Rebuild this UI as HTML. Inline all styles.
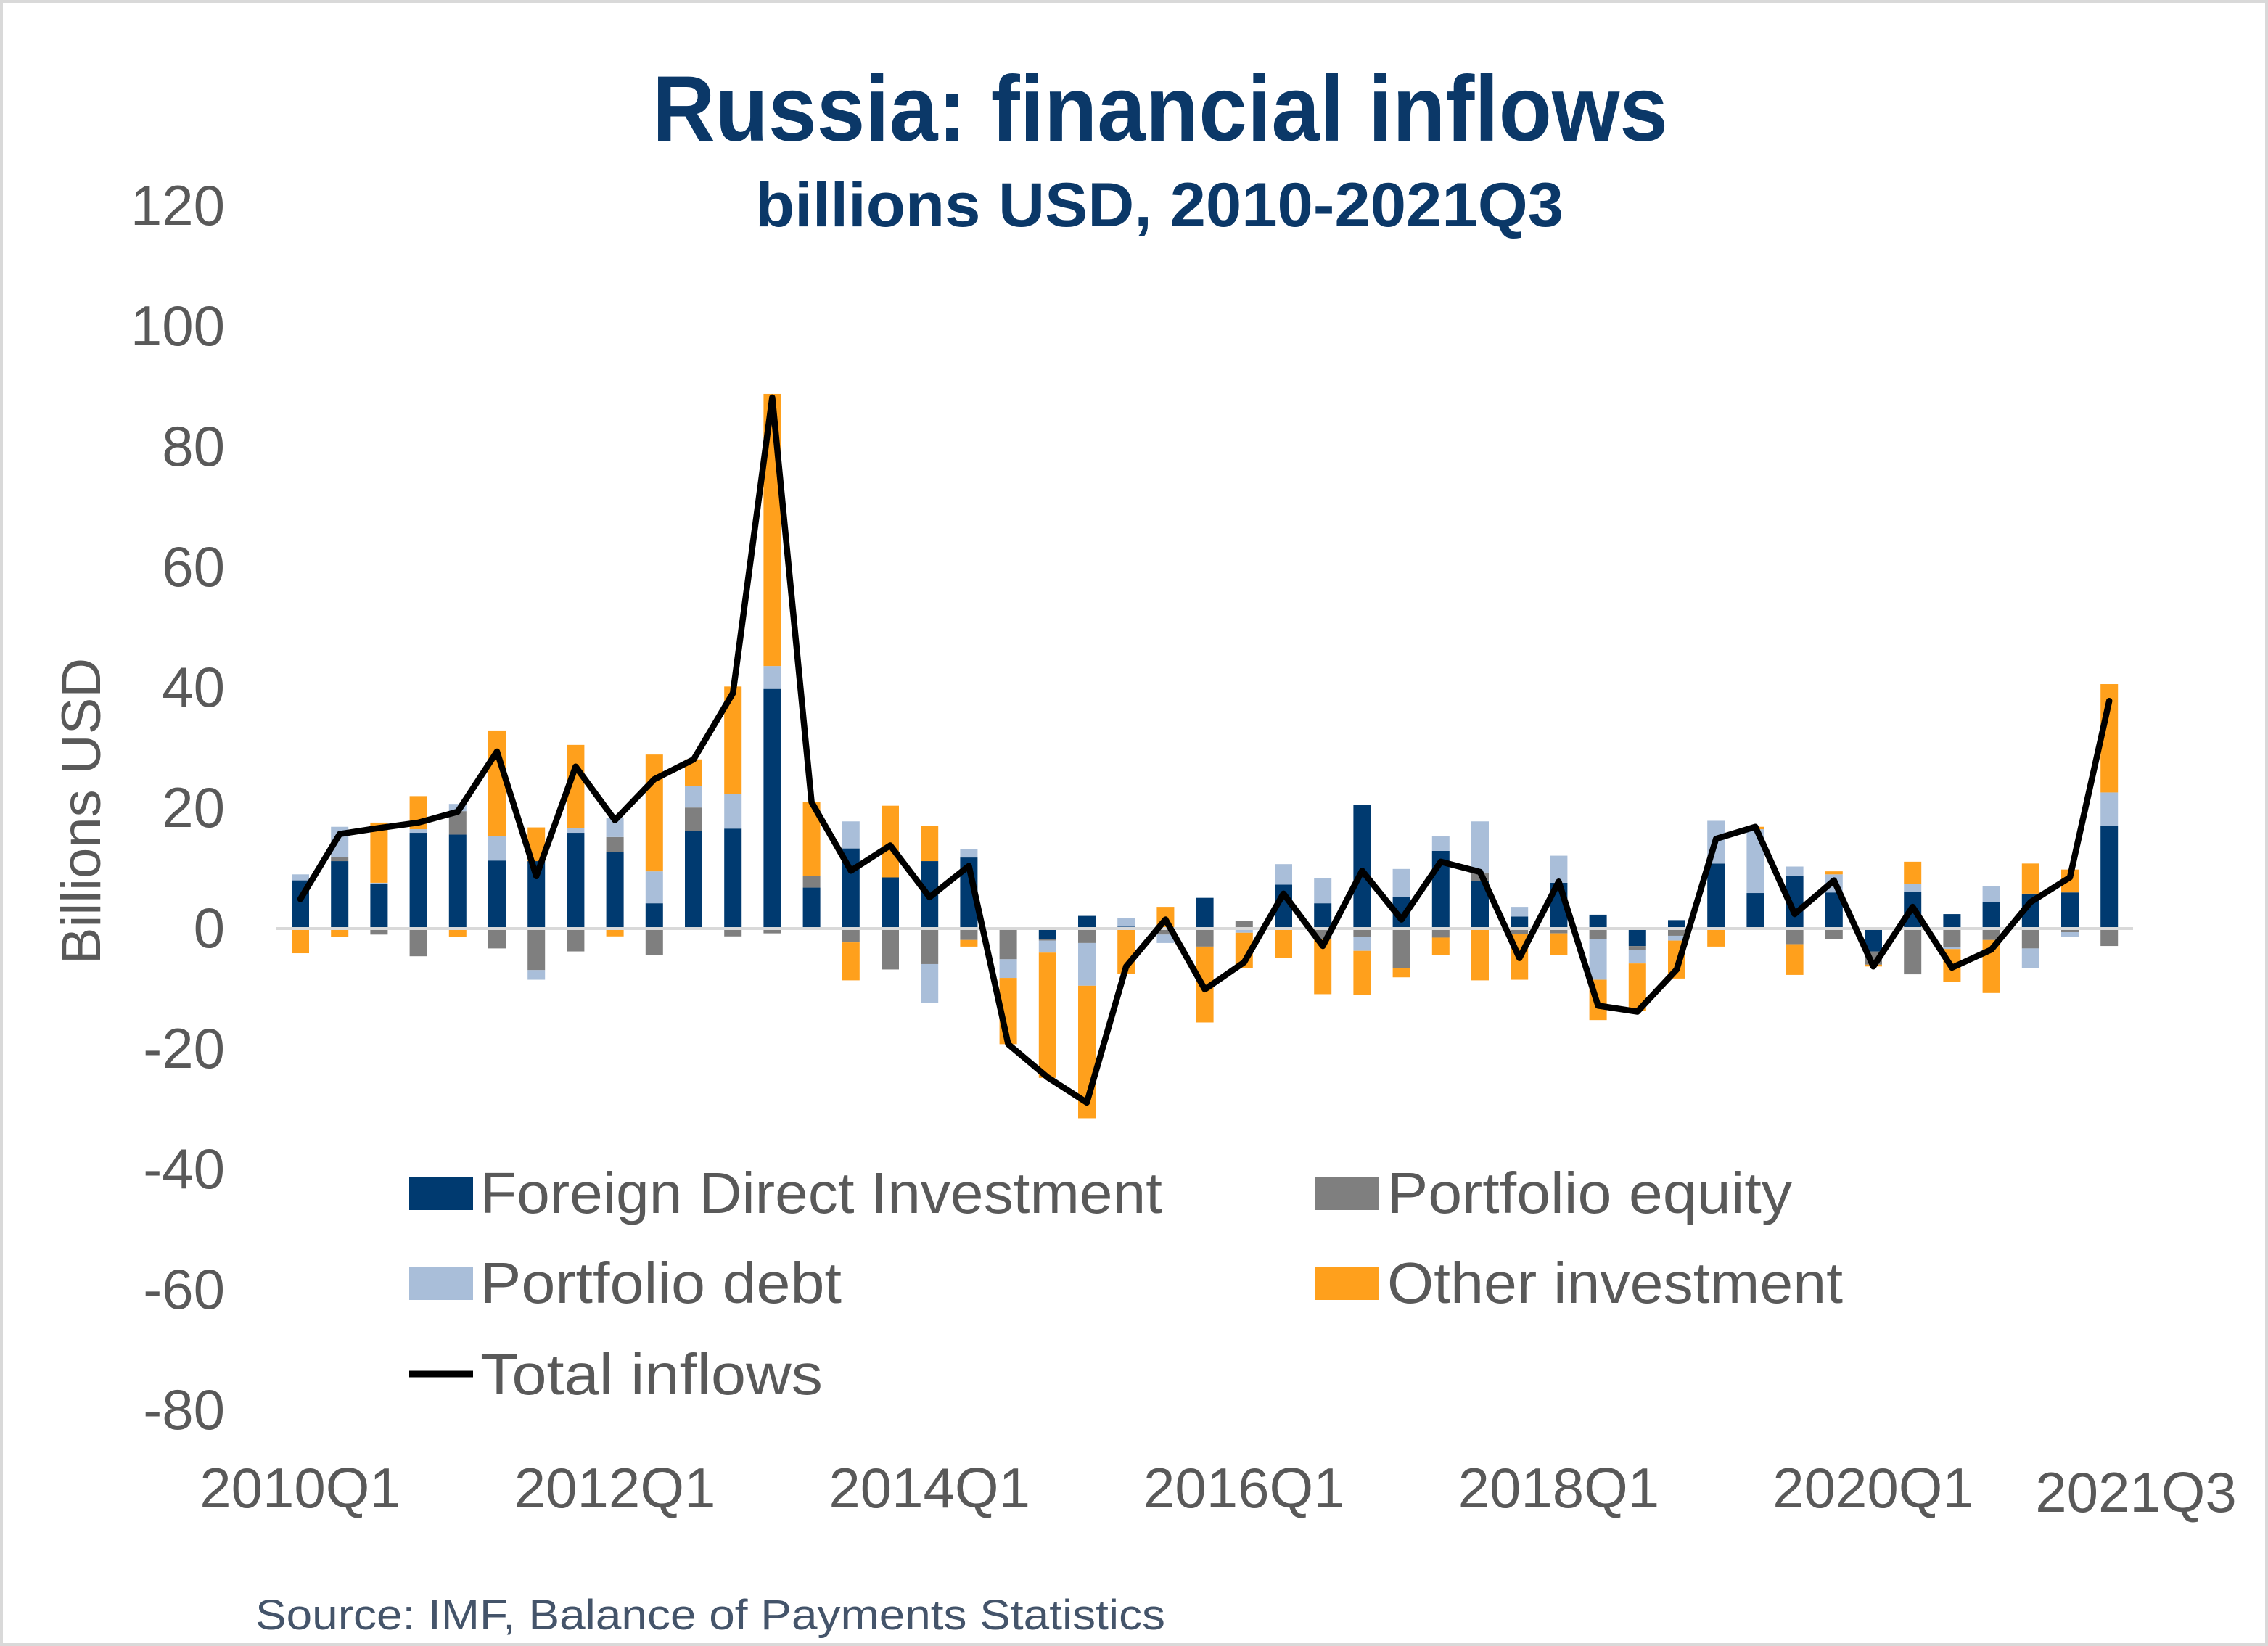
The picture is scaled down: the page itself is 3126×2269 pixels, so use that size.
<!DOCTYPE html>
<html><head><meta charset="utf-8"><style>
html,body{margin:0;padding:0;background:#fff}
svg{display:block}
text{font-family:"Liberation Sans",sans-serif}
</style></head><body>
<svg id="chart" width="3126" height="2269" viewBox="0 0 3126 2269">
<rect x="2" y="2" width="3122" height="2265" fill="#fff" stroke="#d9d9d9" stroke-width="4"/>
<text x="1599" y="194" text-anchor="middle" font-size="128" font-weight="bold" fill="#0b3868" textLength="1400" lengthAdjust="spacingAndGlyphs">Russia: financial inflows</text>
<text x="1598" y="312" text-anchor="middle" font-size="86" font-weight="bold" fill="#0b3868" textLength="1114" lengthAdjust="spacingAndGlyphs">billions USD, 2010-2021Q3</text>
<text transform="translate(138,1118) rotate(-90)" text-anchor="middle" font-size="76" fill="#595959">Billions USD</text>
<g id="yticks"></g>
<g id="bars"></g>
<line x1="380" y1="1280" x2="2940" y2="1280" stroke="#d9d9d9" stroke-width="4"/>
<g id="line"></g>
<g id="xticks"></g>
<g>
<g><rect x="564" y="1622" width="88" height="46" fill="#003a70"/><text x="662" y="1672" font-size="80" fill="#595959" textLength="940" lengthAdjust="spacingAndGlyphs">Foreign Direct Investment</text></g>
<g><rect x="1812" y="1622" width="88" height="46" fill="#7f7f7f"/><text x="1912" y="1672" font-size="80" fill="#595959" textLength="558" lengthAdjust="spacingAndGlyphs">Portfolio equity</text></g>
<g><rect x="564" y="1746" width="88" height="46" fill="#a9bed9"/><text x="662" y="1796" font-size="80" fill="#595959" textLength="498" lengthAdjust="spacingAndGlyphs">Portfolio debt</text></g>
<g><rect x="1812" y="1746" width="88" height="46" fill="#ffa01c"/><text x="1912" y="1796" font-size="80" fill="#595959" textLength="628" lengthAdjust="spacingAndGlyphs">Other investment</text></g>
<g><line x1="564" y1="1894" x2="652" y2="1894" stroke="#000" stroke-width="9"/><text x="662" y="1922" font-size="80" fill="#595959" textLength="472" lengthAdjust="spacingAndGlyphs">Total inflows</text></g>
</g>
<text x="352" y="2246" font-size="58" fill="#44546a" textLength="1254" lengthAdjust="spacingAndGlyphs">Source: IMF, Balance of Payments Statistics</text>
</svg>
<script>
const categories = ["2010Q1","2010Q2","2010Q3","2010Q4","2011Q1","2011Q2","2011Q3","2011Q4","2012Q1","2012Q2","2012Q3","2012Q4","2013Q1","2013Q2","2013Q3","2013Q4","2014Q1","2014Q2","2014Q3","2014Q4","2015Q1","2015Q2","2015Q3","2015Q4","2016Q1","2016Q2","2016Q3","2016Q4","2017Q1","2017Q2","2017Q3","2017Q4","2018Q1","2018Q2","2018Q3","2018Q4","2019Q1","2019Q2","2019Q3","2019Q4","2020Q1","2020Q2","2020Q3","2020Q4","2021Q1","2021Q2","2021Q3"];
const fdi = [8.0,11.2,7.4,15.9,15.6,11.3,11.2,15.9,12.7,4.2,16.2,16.6,39.8,6.8,13.3,8.5,11.2,11.8,0,-1.7,2.1,0.3,0,5.1,0,7.3,4.2,20.6,5.2,12.9,7.9,2.0,7.6,2.3,-2.9,1.4,10.8,5.9,8.8,6.0,-3.8,6.1,2.4,4.4,5.8,6.0,17.0];
const equity = [0,0.7,-1.0,-4.6,3.9,-3.3,-6.9,-3.8,2.5,-4.4,3.9,-1.3,-0.8,1.9,-2.3,-6.8,-5.9,-1.9,-5.1,-0.3,-2.4,0,-1.0,-3.0,1.3,0,-1.7,-1.4,-6.6,-1.5,1.4,-0.9,-0.8,-1.7,-0.7,-1.2,-0.2,0,-2.6,-1.7,-2.2,-7.6,-3.1,-1.9,-3.3,-0.6,-2.9];
const debt = [1.0,5.0,0.2,0.6,1.2,4.0,-1.6,0.8,3.2,5.3,3.6,5.7,3.8,0,4.5,0,-6.5,1.4,-3.1,-2.0,-7.1,1.5,-1.4,0,-0.7,3.4,4.2,-2.3,4.7,2.4,8.5,1.6,4.5,-6.8,-2.2,-0.8,7.1,10.6,1.5,3.0,0,1.3,-0.3,2.7,-3.3,-0.8,5.6];
const other = [-4.1,-1.4,10.0,5.5,-1.4,17.6,5.6,13.8,-1.3,19.4,4.4,17.9,45.2,12.3,-6.3,11.9,5.9,-1.1,-11.0,-20.8,-22.0,-7.5,3.6,-12.6,-5.9,-4.9,-9.2,-7.3,-1.5,-2.9,-8.6,-7.6,-3.6,-6.7,-7.9,-6.3,-2.8,0.4,-5.1,0.5,-0.3,3.7,-5.4,-8.8,5.0,3.8,18.0];
const total = [4.9,15.7,16.7,17.6,19.4,29.4,8.7,26.9,18.0,24.8,28.1,39.1,88.2,21.0,9.6,13.8,5.2,10.4,-19.2,-24.7,-28.9,-6.3,1.5,-10.1,-5.6,5.8,-2.9,9.6,1.5,11.1,9.4,-4.9,7.8,-12.8,-13.8,-6.8,14.9,16.9,2.4,8.0,-6.3,3.6,-6.5,-3.5,4.4,8.5,37.8];
const yTicks = [120,100,80,60,40,20,0,-20,-40,-60,-80];
const xTickLabels = ["2010Q1","2012Q1","2014Q1","2016Q1","2018Q1","2020Q1","2021Q3"];

const NS="http://www.w3.org/2000/svg";
function yScale(v){return 1280 - v*8.3;}
function xScale(i){return 414 + i*54.2;}
const seriesList=[{vals:fdi,color:"#003a70",name:"fdi"},{vals:equity,color:"#7f7f7f",name:"portfolio-equity"},{vals:debt,color:"#a9bed9",name:"portfolio-debt"},{vals:other,color:"#ffa01c",name:"other-investment"}];

const yg=document.getElementById("yticks");
yTicks.forEach(t=>{
  const tx=document.createElementNS(NS,"text");
  tx.setAttribute("x",310);tx.setAttribute("y",yScale(t)+26);
  tx.setAttribute("text-anchor","end");tx.setAttribute("font-size","78");tx.setAttribute("fill","#595959");
  tx.textContent=String(t);
  
  
  yg.appendChild(tx);
});

const bg=document.getElementById("bars");
categories.forEach((c,i)=>{
  let pos=0,neg=0;
  seriesList.forEach(s=>{
    const v=s.vals[i];
    if(!v) return;
    let y0,y1;
    if(v>0){y0=pos;y1=pos+v;pos=y1;}else{y0=neg;y1=neg+v;neg=y1;}
    const r=document.createElementNS(NS,"rect");
    const top=Math.min(yScale(y0),yScale(y1));
    r.setAttribute("x",xScale(i)-12);r.setAttribute("width",24);
    r.setAttribute("y",top);r.setAttribute("height",Math.abs(yScale(y1)-yScale(y0)));
    r.setAttribute("fill",s.color);
    
    
    bg.appendChild(r);
  });
});

const lg=document.getElementById("line");
const pl=document.createElementNS(NS,"polyline");
pl.setAttribute("points",total.map((v,i)=>xScale(i)+","+yScale(v)).join(" "));
pl.setAttribute("fill","none");pl.setAttribute("stroke","#000");pl.setAttribute("stroke-width","8.5");
pl.setAttribute("stroke-linejoin","round");pl.setAttribute("stroke-linecap","round");


lg.appendChild(pl);

const xg=document.getElementById("xticks");
xTickLabels.forEach(l=>{
  const i=categories.indexOf(l);
  const tx=document.createElementNS(NS,"text");
  const cx = l==="2021Q3" ? 2944 : xScale(i);
  tx.setAttribute("x",cx);tx.setAttribute("y",l==="2021Q3"?2084:2078);
  tx.setAttribute("text-anchor","middle");tx.setAttribute("font-size","78");tx.setAttribute("fill","#595959");
  tx.textContent=l;
  
  
  xg.appendChild(tx);
});
</script>
</body></html>
